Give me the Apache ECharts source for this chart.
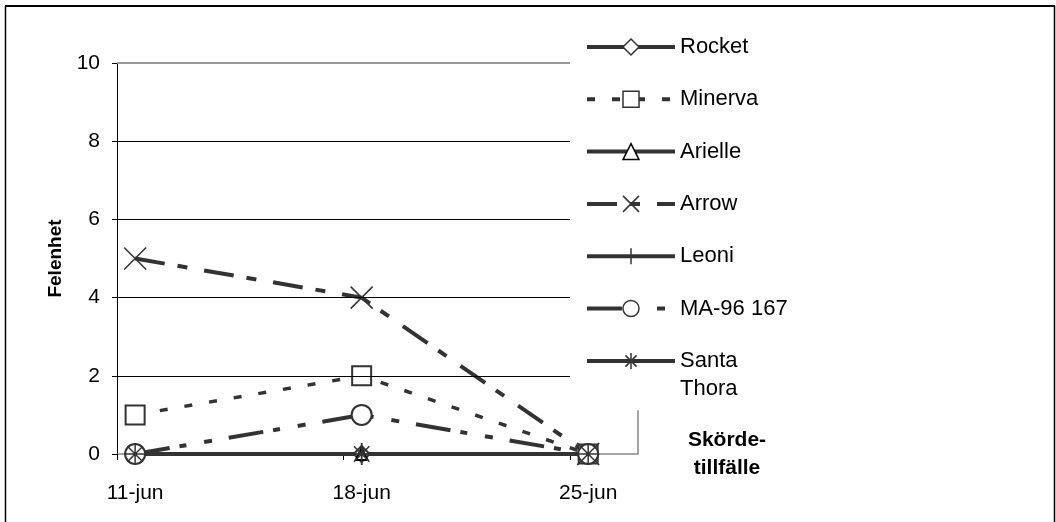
<!DOCTYPE html>
<html>
<head>
<meta charset="utf-8">
<script src="https://cdn.jsdelivr.net/npm/echarts@6/dist/echarts.min.js"></script>
<style>
html,body{margin:0;padding:0;background:#fff;}
#chart{width:1056px;height:522px;}
</style>
</head>
<body>
<div id="chart"></div>
<script>
// ---- data ----
const categories = ['11-jun', '18-jun', '25-jun'];
const seriesNames = ['Rocket', 'Minerva', 'Arielle', 'Arrow', 'Leoni', 'MA-96 167', 'Santa Thora'];
const rocket = [0, 0, 0];
const minerva = [1, 2, 0];
const arielle = [0, 0, 0];
const arrow = [5, 4, 0];
const leoni = [0, 0, 0];
const ma96167 = [0, 1, 0];
const santaThora = [0, 0, 0];
const yTicks = [0, 2, 4, 6, 8, 10];
const yAxisTitle = 'Felenhet';
const xAxisTitle = 'Skörde-\ntillfälle';

// ---- axis extents (category index units) ----
const xMin = -0.08;
const gridEnd = 1.92;
const xMax = 2.22;

const FONT = '"Liberation Sans", Arial, sans-serif';
const INK = '#333333';

function pts(arr) { return arr.map((v, i) => [i, v]); }

const X_PATH = 'path://M0,0L10,10M10,0L0,10';
const PLUS_PATH = 'path://M5,0L5,10M0,5L10,5';
const STAR_PATH = 'path://M5,0L5,10M0,5L10,5M1.5,1.5L8.5,8.5M8.5,1.5L1.5,8.5';

function mk(name, values, opts) {
  return Object.assign({
    name: name,
    type: 'line',
    data: pts(values),
    showAllSymbol: true,
    clip: false,
    z: 3,
    lineStyle: { color: INK, width: 4, type: 'solid' },
    itemStyle: { color: '#ffffff', borderColor: INK, borderWidth: 2 },
    emphasis: { disabled: true }
  }, opts);
}

const gridLines = yTicks.filter(v => v > 0).map(v => [
  { coord: [xMin, v], lineStyle: v === 10 ? { color: '#999999', width: 2, type: 'solid' } : { color: '#000000', width: 1, type: 'solid' } },
  { coord: [gridEnd, v] }
]);
gridLines.push([
  { coord: [xMax, 0], lineStyle: { color: '#888888', width: 1.5, type: 'solid' } },
  { coord: [xMax, 1.12] }
]);

const series = [
  {
    name: '_grid', type: 'line', data: [], z: 1, silent: true,
    markLine: { silent: true, symbol: 'none', label: { show: false }, animation: false,
      lineStyle: { type: 'solid' }, data: gridLines }
  },
  mk('Rocket', rocket, { symbol: 'diamond', symbolSize: 16 }),
  mk('Minerva', minerva, { symbol: 'rect', symbolSize: 19, lineStyle: { color: INK, width: 3.5, type: [8, 17] } }),
  mk('Arielle', arielle, { symbol: 'triangle', symbolSize: 12, itemStyle: { color: '#ffffff', borderColor: '#000', borderWidth: 2 } }),
  mk('Arrow', arrow, { symbol: X_PATH, symbolSize: 22, lineStyle: { color: INK, width: 4, type: [30, 13, 10, 17] }, itemStyle: { color: INK, borderColor: INK, borderWidth: 1.5 } }),
  mk('Leoni', leoni, { symbol: PLUS_PATH, symbolSize: 22, itemStyle: { color: INK, borderColor: INK, borderWidth: 1.5 } }),
  mk('MA-96 167', ma96167, { symbol: 'circle', symbolSize: 20, lineStyle: { color: INK, width: 4, type: [35, 10, 7, 18, 8, 17] } }),
  mk('Santa Thora', santaThora, { symbol: STAR_PATH, symbolSize: 22, itemStyle: { color: INK, borderColor: INK, borderWidth: 1.5 } })
];

const legendCommon = {
  orient: 'vertical', left: 585, padding: 0,
  itemWidth: 88, itemHeight: 20, itemGap: 26.3,
  textStyle: { fontFamily: FONT, fontSize: 22, color: '#000', lineHeight: 26 },
  lineStyle: { width: 4 },
  itemStyle: { borderWidth: 1.5 },
  selectedMode: false
};

const chart = echarts.init(document.getElementById('chart'), null, { renderer: 'canvas' });
chart.setOption({
  animation: false,
  backgroundColor: '#ffffff',
  textStyle: { fontFamily: FONT },
  grid: { left: 117, top: 63, width: 521, height: 391, outerBoundsMode: 'none', containLabel: false },
  xAxis: {
    type: 'value', min: xMin, max: xMax,
    name: xAxisTitle, nameLocation: 'end', nameGap: 89,
    nameTextStyle: { fontFamily: FONT, fontSize: 21, fontWeight: 'bold', color: '#000', align: 'center', verticalAlign: 'middle', lineHeight: 28, padding: [44, 0, 0, 0] },
    axisLine: { show: true, onZero: false, lineStyle: { color: '#888888', width: 1.5 } },
    axisTick: { show: true, length: 6, customValues: [xMin, 1 + xMin, 2 + xMin], lineStyle: { color: '#000', width: 1 } },
    axisLabel: { customValues: [0, 1, 2], formatter: v => categories[Math.round(v)], fontFamily: FONT, fontSize: 21, color: '#000', margin: 27, lineHeight: 24 },
    splitLine: { show: false }
  },
  yAxis: {
    type: 'value', min: 0, max: 10, interval: 2,
    name: yAxisTitle, nameLocation: 'middle', nameGap: 52,
    nameTextStyle: { fontFamily: FONT, fontSize: 19, fontWeight: 'bold', color: '#000' },
    axisLine: { show: true, onZero: false, lineStyle: { color: '#000', width: 1 } },
    axisTick: { show: true, length: 5, lineStyle: { color: '#000', width: 1 } },
    axisLabel: { fontFamily: FONT, fontSize: 21, color: '#000', margin: 17, formatter: v => String(v) },
    splitLine: { show: false }
  },
  legend: [
    Object.assign({}, legendCommon, { top: 34, data: seriesNames.slice(0, 6) }),
    Object.assign({}, legendCommon, {
      top: 350,
      data: [seriesNames[6]],
      formatter: n => {
        const parts = n.split(' ');
        return '{a|' + parts[0] + '}\n{b|' + parts[1] + '}';
      },
      textStyle: {
        fontFamily: FONT, fontSize: 22, color: '#000',
        rich: {
          a: { fontFamily: FONT, fontSize: 22, color: '#000', lineHeight: 56 },
          b: { fontFamily: FONT, fontSize: 22, color: '#000', lineHeight: 0.01 }
        }
      }
    })
  ],
  graphic: [
    { type: 'line', shape: { x1: 5, y1: 6, x2: 1055, y2: 6 }, style: { stroke: '#000', lineWidth: 2 }, silent: true },
    { type: 'line', shape: { x1: 5.5, y1: 6, x2: 5.5, y2: 522 }, style: { stroke: '#000', lineWidth: 1.5 }, silent: true },
    { type: 'line', shape: { x1: 1054.5, y1: 6, x2: 1054.5, y2: 522 }, style: { stroke: '#000', lineWidth: 1.5 }, silent: true }
  ],
  series: series
});
</script>
</body>
</html>
